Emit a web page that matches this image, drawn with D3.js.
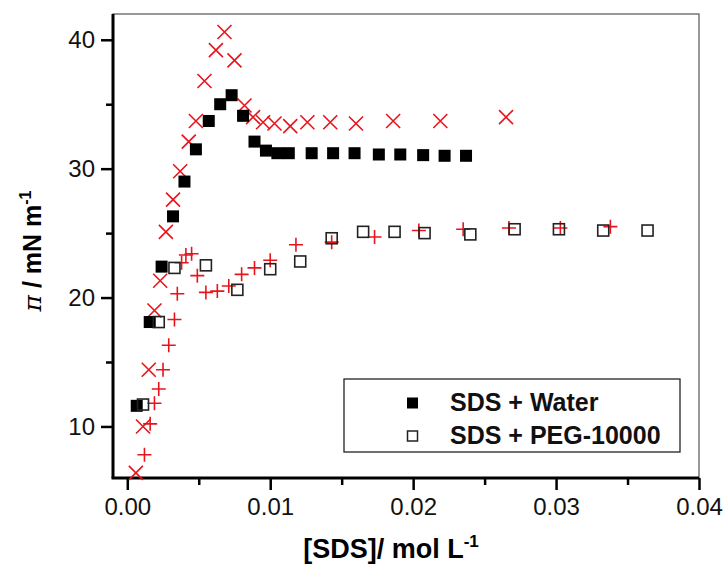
<!DOCTYPE html>
<html>
<head>
<meta charset="utf-8">
<script src="https://cdn.jsdelivr.net/npm/d3@7"></script>
<style>
  body { margin: 0; background: #fff; }
  text { font-family: "Liberation Sans", Arial, sans-serif; }
</style>
</head>
<body>
<div class="chart"></div>
<script>
// SDS + Water (filled squares)
var waterX = [0.00066, 0.00157, 0.0024, 0.0032, 0.0040, 0.0048, 0.0057, 0.0065, 0.0073, 0.0081, 0.0089, 0.0097, 0.0105, 0.0113, 0.0129, 0.0144, 0.0159, 0.0176, 0.0191, 0.0207, 0.0222, 0.0237];
var waterY = [11.6, 18.1, 22.4, 26.3, 29.0, 31.5, 33.7, 35.0, 35.7, 34.1, 32.1, 31.4, 31.2, 31.2, 31.2, 31.2, 31.2, 31.1, 31.1, 31.05, 31.0, 31.0];

// SDS + PEG-10000 (open squares)
var pegX = [0.0011, 0.0022, 0.0033, 0.0055, 0.0077, 0.0100, 0.0121, 0.0143, 0.0165, 0.0187, 0.0208, 0.0240, 0.0271, 0.0302, 0.0333, 0.0364];
var pegY = [11.7, 18.1, 22.3, 22.5, 20.6, 22.2, 22.8, 24.6, 25.1, 25.1, 25.0, 24.9, 25.3, 25.3, 25.2, 25.2];

// red crosses (x)
var crossX = [0.0006, 0.0011, 0.0015, 0.0019, 0.0023, 0.0027, 0.0032, 0.0037, 0.0043, 0.0048, 0.0054, 0.0062, 0.0068, 0.0075, 0.0082, 0.0088, 0.0095, 0.0103, 0.0114, 0.0126, 0.0142, 0.0160, 0.0186, 0.0219, 0.0265];
var crossY = [6.4, 10.0, 14.4, 19.0, 21.3, 25.1, 27.6, 29.8, 32.1, 33.7, 36.8, 39.2, 40.6, 38.4, 34.9, 34.0, 33.6, 33.5, 33.3, 33.6, 33.6, 33.5, 33.7, 33.7, 34.0];

// red plus signs
var plusX = [0.0012, 0.0016, 0.0019, 0.0022, 0.0025, 0.0029, 0.0033, 0.0035, 0.0038, 0.0041, 0.0045, 0.0049, 0.0055, 0.0063, 0.0071, 0.0080, 0.0089, 0.0100, 0.0118, 0.0143, 0.0173, 0.0204, 0.0235, 0.0267, 0.0303, 0.0338];
var plusY = [7.8, 10.2, 11.8, 12.9, 14.4, 16.3, 18.3, 20.3, 22.7, 23.3, 23.4, 21.7, 20.4, 20.5, 20.9, 21.8, 22.3, 22.9, 24.1, 24.3, 24.7, 25.2, 25.3, 25.4, 25.4, 25.5];

var xTicks = [0, 0.01, 0.02, 0.03, 0.04];
var xMinor = [0.005, 0.015, 0.025, 0.035];
var yTicks = [10, 20, 30, 40];
var yMinor = [15, 25, 35];
var legendLabels = ["SDS + Water", "SDS + PEG-10000"];

var width = 723, height = 569;
var m = { left: 113, right: 24, top: 14, bottom: 91 };

var svg = d3.select(".chart").append("svg")
    .attr("width", width)
    .attr("height", height);

var x = d3.scaleLinear().domain([-0.001, 0.04]).range([m.left, width - m.right]);
var y = d3.scaleLinear().domain([6, 42]).range([height - m.bottom, m.top]);

//frame (top + right thin)
svg.append("rect")
    .attr("x", m.left).attr("y", m.top)
    .attr("width", width - m.right - m.left)
    .attr("height", height - m.bottom - m.top)
    .attr("fill", "none")
    .attr("stroke", "#555")
    .attr("stroke-width", 1.2);

//x axis
var xAxis = svg.append("g")
    .attr("transform", "translate(0," + (height - m.bottom) + ")")
    .call(d3.axisBottom(x).tickValues(xTicks).tickSize(12).tickPadding(8)
        .tickFormat(d3.format(".2f")));
svg.append("g")
    .attr("transform", "translate(0," + (height - m.bottom) + ")")
    .call(d3.axisBottom(x).tickValues(xMinor).tickSize(7).tickFormat(""))
    .call(g => g.select(".domain").remove())
    .selectAll("line").attr("stroke-width", 2.5);

//y axis
var yAxis = svg.append("g")
    .attr("transform", "translate(" + m.left + ",0)")
    .call(d3.axisLeft(y).tickValues(yTicks).tickSize(12).tickPadding(6));
svg.append("g")
    .attr("transform", "translate(" + m.left + ",0)")
    .call(d3.axisLeft(y).tickValues(yMinor).tickSize(7).tickFormat(""))
    .call(g => g.select(".domain").remove())
    .selectAll("line").attr("stroke-width", 2.5);

[xAxis, yAxis].forEach(function (a) {
    a.select(".domain").remove();
    a.selectAll(".tick line").attr("stroke-width", 2.5);
    a.selectAll(".tick text").attr("font-size", 24).attr("fill", "#111");
});
// axis lines without end ticks
svg.append("line")
    .attr("x1", x(-0.001) - 1.5).attr("x2", x(0.04))
    .attr("y1", y(6)).attr("y2", y(6))
    .attr("stroke", "#000").attr("stroke-width", 3);
svg.append("line")
    .attr("x1", x(-0.001)).attr("x2", x(-0.001))
    .attr("y1", y(42)).attr("y2", y(6))
    .attr("stroke", "#000").attr("stroke-width", 3);

//axis titles
svg.append("text")
    .attr("x", 391).attr("y", 558)
    .attr("text-anchor", "middle")
    .attr("font-size", 27).attr("font-weight", "bold")
    .html('[SDS]/ mol L<tspan dy="-11" font-size="17">-1</tspan>');

svg.append("text")
    .attr("transform", "translate(41,251) rotate(-90)")
    .attr("text-anchor", "middle")
    .attr("font-size", 25).attr("font-weight", "bold")
    .html('<tspan font-style="italic" font-family="DejaVu Serif" font-weight="normal">π</tspan> / mN m<tspan dy="-10" font-size="16">-1</tspan>');

var plot = svg.append("g");

var zip = (xs, ys) => xs.map((v, i) => [v, ys[i]]);

//red plus
plot.selectAll(".plus").data(zip(plusX, plusY)).enter()
    .append("path")
    .attr("d", "M-7,0H7M0,-7V7")
    .attr("transform", d => "translate(" + x(d[0]) + "," + y(d[1]) + ")")
    .attr("stroke", "#e8141c").attr("stroke-width", 1.6).attr("fill", "none");

//red cross
plot.selectAll(".cross").data(zip(crossX, crossY)).enter()
    .append("path")
    .attr("d", "M-7,-7L7,7M-7,7L7,-7")
    .attr("transform", d => "translate(" + x(d[0]) + "," + y(d[1]) + ")")
    .attr("stroke", "#e8141c").attr("stroke-width", 1.6).attr("fill", "none");

//filled squares
plot.selectAll(".water").data(zip(waterX, waterY)).enter()
    .append("rect")
    .attr("x", d => x(d[0]) - 6).attr("y", d => y(d[1]) - 6)
    .attr("width", 12).attr("height", 12)
    .attr("fill", "#000");

//open squares
plot.selectAll(".peg").data(zip(pegX, pegY)).enter()
    .append("rect")
    .attr("x", d => x(d[0]) - 5.5).attr("y", d => y(d[1]) - 5.5)
    .attr("width", 11).attr("height", 11)
    .attr("fill", "none")
    .attr("stroke", "#222").attr("stroke-width", 1.6);

//legend
var lg = svg.append("g");
lg.append("rect")
    .attr("x", 344).attr("y", 379)
    .attr("width", 336).attr("height", 73)
    .attr("fill", "#fff").attr("stroke", "#222").attr("stroke-width", 1.3);
legendLabels.forEach(function (label, i) {
    var cy = 403 + i * 33;
    if (i === 0) {
        lg.append("rect").attr("x", 407).attr("y", cy - 5.5).attr("width", 11).attr("height", 11).attr("fill", "#000");
    } else {
        lg.append("rect").attr("x", 407.5).attr("y", cy - 5).attr("width", 10).attr("height", 10)
            .attr("fill", "none").attr("stroke", "#222").attr("stroke-width", 1.5);
    }
    lg.append("text")
        .attr("x", 450).attr("y", cy + 8)
        .attr("font-size", 25).attr("font-weight", "bold")
        .attr("fill", "#111")
        .text(label);
});
</script>
</body>
</html>
